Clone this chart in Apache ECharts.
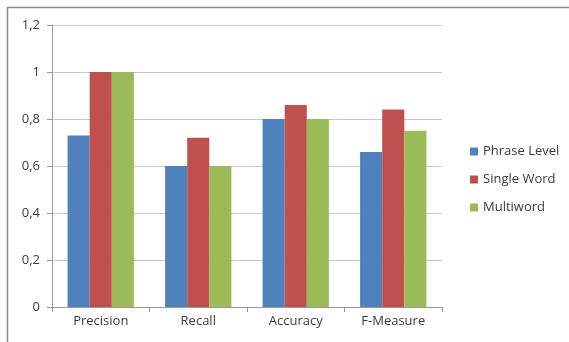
<!DOCTYPE html>
<html><head><meta charset="utf-8">
<script src="https://cdn.jsdelivr.net/npm/echarts@6/dist/echarts.min.js"></script>
<style>html,body{margin:0;padding:0;background:#fff}#c{width:569px;height:342px}</style>
</head><body><div id="c"></div>
<script>
const categories = ['Precision', 'Recall', 'Accuracy', 'F-Measure'];
const seriesNames = ['Phrase Level', 'Single Word', 'Multiword'];
const phraseLevel = [0.73, 0.60, 0.80, 0.66];
const singleWord = [1.00, 0.72, 0.86, 0.84];
const multiword = [1.00, 0.60, 0.80, 0.75];
const colors = ['#4F81BD', '#C0504D', '#9BBB59'];
const font = 'Open Sans';
const chart = echarts.init(document.getElementById('c'));
chart.setOption({
  animation: false,
  textStyle: { fontFamily: font },
  graphic: [{ type: 'rect', shape: { x: 7.5, y: 7.5, width: 600, height: 400 }, style: { fill: 'none', stroke: '#8c8c8c', lineWidth: 1.5 }, silent: true }],
  grid: { left: 52, right: 127, top: 25, bottom: 35 },
  legend: {
    orient: 'vertical', left: 465, top: 140, itemWidth: 8, itemHeight: 8, itemGap: 15, itemStyle: { borderWidth: 0 },
    textStyle: { fontSize: 13, color: '#3a3a3a', fontFamily: font },
    data: seriesNames.map(n => ({ name: n, icon: 'rect' }))
  },
  xAxis: {
    type: 'category', data: categories,
    axisLine: { lineStyle: { color: '#999' } },
    axisTick: { show: true, length: 5, lineStyle: { color: '#999' } },
    axisLabel: { color: '#3a3a3a', fontSize: 13, margin: 8 }
  },
  yAxis: {
    type: 'value', min: 0, max: 1.2, interval: 0.2,
    axisLine: { show: true, lineStyle: { color: '#999' } },
    axisTick: { show: true, length: 5, lineStyle: { color: '#999' } },
    splitLine: { lineStyle: { color: '#c8c8c8' } },
    axisLabel: { color: '#3a3a3a', fontSize: 13, margin: 12, formatter: v => String(+v.toFixed(1)).replace('.', ',') }
  },
  series: [phraseLevel, singleWord, multiword].map((d, i) => ({
    name: seriesNames[i], type: 'bar', data: d, barGap: '0%', barCategoryGap: '32%',
    itemStyle: { color: colors[i] }
  }))
});
</script></body></html>
